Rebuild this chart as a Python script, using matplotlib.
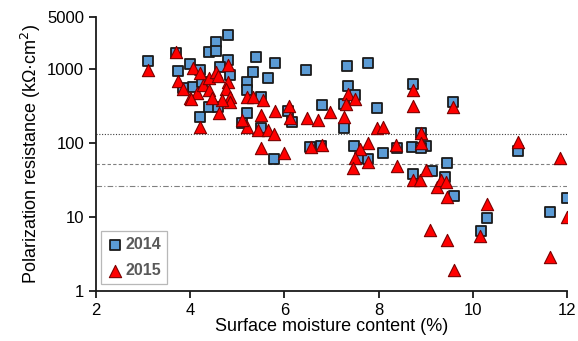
import numpy as np
import matplotlib.pyplot as plt
from matplotlib.ticker import FixedLocator, FixedFormatter, NullLocator

plt.rcParams['font.family'] = ['Liberation Sans', 'DejaVu Sans']

# 2014 measurements (moisture %, resistance kOhm cm2)
x_2014 = [3.1, 3.7, 3.74, 4.0, 4.4, 4.55, 4.55, 4.8, 4.8, 5.4, 5.8, 5.34, 5.66, 5.2,
          5.2, 6.45, 4.85, 4.2, 4.05, 3.85, 4.2, 4.4, 4.6, 5.1, 5.5, 5.5, 5.77, 6.55,
          6.77, 6.8, 7.26, 7.32, 7.77, 7.36, 7.5, 7.26, 7.96, 8.72, 9.57, 7.47, 8.1,
          8.4, 8.7, 8.9, 9.0, 8.9, 10.96, 9.45, 7.6, 7.77, 8.72, 9.13, 9.4, 9.6,
          10.3, 10.17, 11.64, 12.0, 5.2, 6.17, 6.08, 4.25, 4.64]
r_2014 = [1290, 1650, 940, 1170, 1700, 2300, 1750, 2880, 1320, 1450, 1200, 910, 760, 670,
          520, 970, 830, 970, 570, 550, 225, 306, 306, 186, 420, 160, 61, 88,
          91, 325, 160, 1090, 1200, 590, 445, 335, 295, 630, 357, 91, 73,
          85, 88, 136, 91, 85, 78, 54, 63, 61, 38, 42, 35, 19,
          9.7, 6.5, 11.7, 18, 253, 192, 265, 670, 1070]

# 2015 measurements
x_2015 = [3.1, 3.7, 3.74, 3.85, 4.0, 4.07, 4.2, 4.15, 4.28, 4.4, 4.4, 4.55, 4.6, 4.8,
          4.8, 4.77, 4.85, 4.85, 4.68, 4.47, 4.62, 4.2, 5.2, 5.34, 5.55, 5.8, 5.2,
          5.43, 5.66, 5.77, 6.1, 6.12, 6.47, 6.72, 6.96, 5.5, 6.0, 6.8, 4.02, 5.1,
          5.5, 6.57, 7.26, 7.96, 8.1, 7.77, 7.6, 7.5, 7.45, 7.77, 8.36, 8.4, 8.9,
          8.9, 8.72, 8.87, 9.0, 9.23, 7.36, 7.5, 7.3, 8.72, 8.72, 9.57, 10.96,
          11.85, 9.32, 9.43, 9.45, 9.1, 9.45, 9.6, 10.3, 10.15, 11.64, 12.0]
r_2015 = [970, 1700, 690, 535, 405, 1030, 890, 475, 610, 750, 520, 910, 800, 1130,
          670, 535, 420, 360, 380, 405, 253, 165, 420, 420, 380, 270, 165,
          150, 150, 132, 315, 218, 218, 205, 263, 85, 73, 94, 390, 205,
          240, 88, 225, 160, 165, 100, 83, 63, 46, 55, 94, 49, 136,
          100, 31, 31, 43, 25, 460, 390, 335, 520, 315, 305, 103,
          63, 31, 30, 18.6, 6.7, 4.9, 1.9, 15, 5.5, 2.9, 10]

# corrosion thresholds
limits = [130, 52, 26]
limit_styles = [(0, (1, 1.5)), (0, (3, 2)), (0, (5, 2, 1, 2))]
limit_colors = ['#404040', '#808080', '#808080']

fig = plt.figure(figsize=(5.78, 3.41), dpi=100)
ax = fig.add_axes([0.166, 0.147, 0.815, 0.803])

for lim, ls, col in zip(limits, limit_styles, limit_colors):
    ax.plot([2, 12], [lim, lim], linestyle=ls, color=col, linewidth=0.8, zorder=1)

ax.scatter(x_2014, r_2014, marker='s', s=58, facecolor='#5B9BD5', edgecolor='#1a1a1a',
           linewidth=1.3, label='2014', zorder=3)
ax.scatter(x_2015, r_2015, marker='^', s=78, facecolor='#FF0000', edgecolor='#7a0000',
           linewidth=0.8, label='2015', zorder=4)

ax.set_yscale('log')
ax.set_xlim(2, 12)
ax.set_ylim(1, 5000)
ax.set_xticks([2, 4, 6, 8, 10, 12])
ax.yaxis.set_major_locator(FixedLocator([1, 10, 100, 1000, 5000]))
ax.yaxis.set_major_formatter(FixedFormatter(['1', '10', '100', '1000', '5000']))
ax.yaxis.set_minor_locator(NullLocator())

for side in ['top', 'right']:
    ax.spines[side].set_visible(False)
for side in ['left', 'bottom']:
    ax.spines[side].set_linewidth(1.3)
    ax.spines[side].set_color('#1a1a1a')
ax.tick_params(direction='out', length=5, width=1.3, labelsize=12, colors='#1a1a1a',
               labelcolor='black')

ax.set_xlabel('Surface moisture content (%)', fontsize=13, labelpad=0)
ax.set_ylabel('Polarization resistance (kΩ·cm$^2$)', fontsize=13, labelpad=3)

leg = ax.legend(loc='lower left', bbox_to_anchor=(0.011, 0.026), borderaxespad=0,
                frameon=True, fancybox=False, edgecolor='#a6a6a6', borderpad=0.35,
                handlelength=1.0, handletextpad=0.2, labelspacing=0.7,
                prop={'weight': 'bold', 'size': 11.5})
leg.get_frame().set_linewidth(0.9)
for t in leg.get_texts():
    t.set_color('#595959')

fig.savefig('out.png', dpi=100)
